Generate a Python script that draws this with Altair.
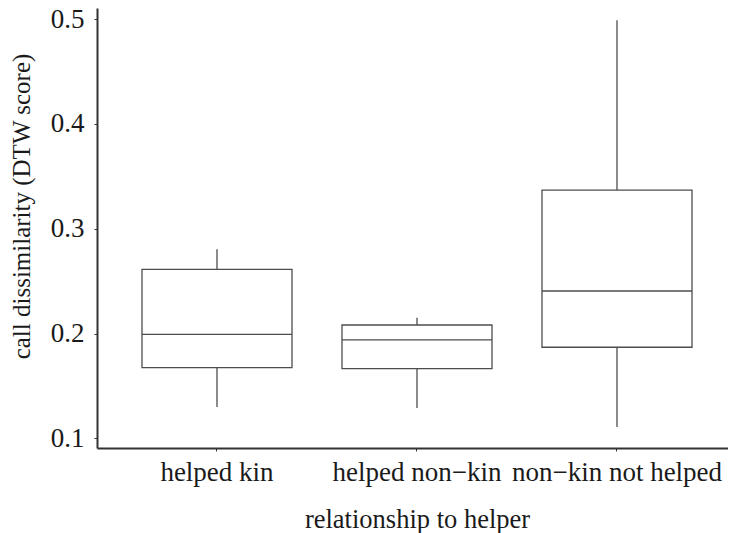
import altair as alt
import pandas as pd

categories = ["helped kin", "helped non−kin", "non−kin not helped"]
lower_whisker = [0.130, 0.129, 0.111]
q1 = [0.1675, 0.1665, 0.187]
median = [0.1993, 0.194, 0.2406]
q3 = [0.2613, 0.2082, 0.3369]
upper_whisker = [0.2804, 0.2152, 0.4987]
y_ticks = [0.1, 0.2, 0.3, 0.4, 0.5]

df = pd.DataFrame({
    "cat": categories,
    "lo": lower_whisker,
    "q1": q1,
    "med": median,
    "q3": q3,
    "hi": upper_whisker,
})

FONT = "Liberation Serif"
LINE = "#4d4d4d"

x = alt.X(
    "cat:N",
    sort=categories,
    scale=alt.Scale(paddingInner=0, paddingOuter=0.0775, align=0.645),
    axis=alt.Axis(
        title="relationship to helper",
        titleX=320,
        labelAngle=0,
        labelFont=FONT,
        labelFontSize=27,
        labelColor="#1a1a1a",
        labelPadding=8,
        labelLimit=0,
        titleFont=FONT,
        titleFontSize=26.5,
        titleFontWeight="normal",
        titleColor="#1a1a1a",
        titlePadding=21,
        domainColor="#333333",
        domainWidth=2,
        tickColor="#333333",
        tickSize=3,
        tickWidth=1,
        grid=False,
    ),
)

yscale = alt.Scale(domain=[0.0909, 0.5105], nice=False, zero=False)
yaxis = alt.Axis(
    title="call dissimilarity (DTW score)",
    titleY=198,
    values=y_ticks,
    format=".1f",
    labelFont=FONT,
    labelFontSize=27,
    labelColor="#1a1a1a",
    labelPadding=10,
    titleFont=FONT,
    titleFontSize=25,
    titleFontWeight="normal",
    titleColor="#1a1a1a",
    titlePadding=16,
    domainColor="#333333",
    domainWidth=2,
    tickColor="#333333",
    tickSize=3,
    tickWidth=1,
    grid=False,
)

base = alt.Chart(df)

lower = base.mark_rule(color=LINE, strokeWidth=1.3).encode(
    x=x, y=alt.Y("lo:Q", scale=yscale, axis=yaxis), y2="q1:Q"
)
upper = base.mark_rule(color=LINE, strokeWidth=1.3).encode(
    x=x, y=alt.Y("q3:Q", scale=yscale, axis=yaxis), y2="hi:Q"
)
box = base.mark_bar(size=150, fill="white", stroke=LINE, strokeWidth=1.3).encode(
    x=x, y=alt.Y("q1:Q", scale=yscale, axis=yaxis), y2="q3:Q"
)
med = base.mark_tick(size=150, thickness=1.3, color=LINE, opacity=1).encode(
    x=x, y=alt.Y("med:Q", scale=yscale, axis=yaxis)
)

chart = (
    alt.layer(lower, upper, box, med)
    .properties(
        width=631,
        height=440,
        autosize=alt.AutoSizeParams(type="none"),
        padding={"left": 89, "top": 0, "right": 0, "bottom": 85},
        background="white",
    )
    .configure_view(stroke=None)
)

chart.save("out.html", embed_options={"renderer": "svg", "actions": False})
